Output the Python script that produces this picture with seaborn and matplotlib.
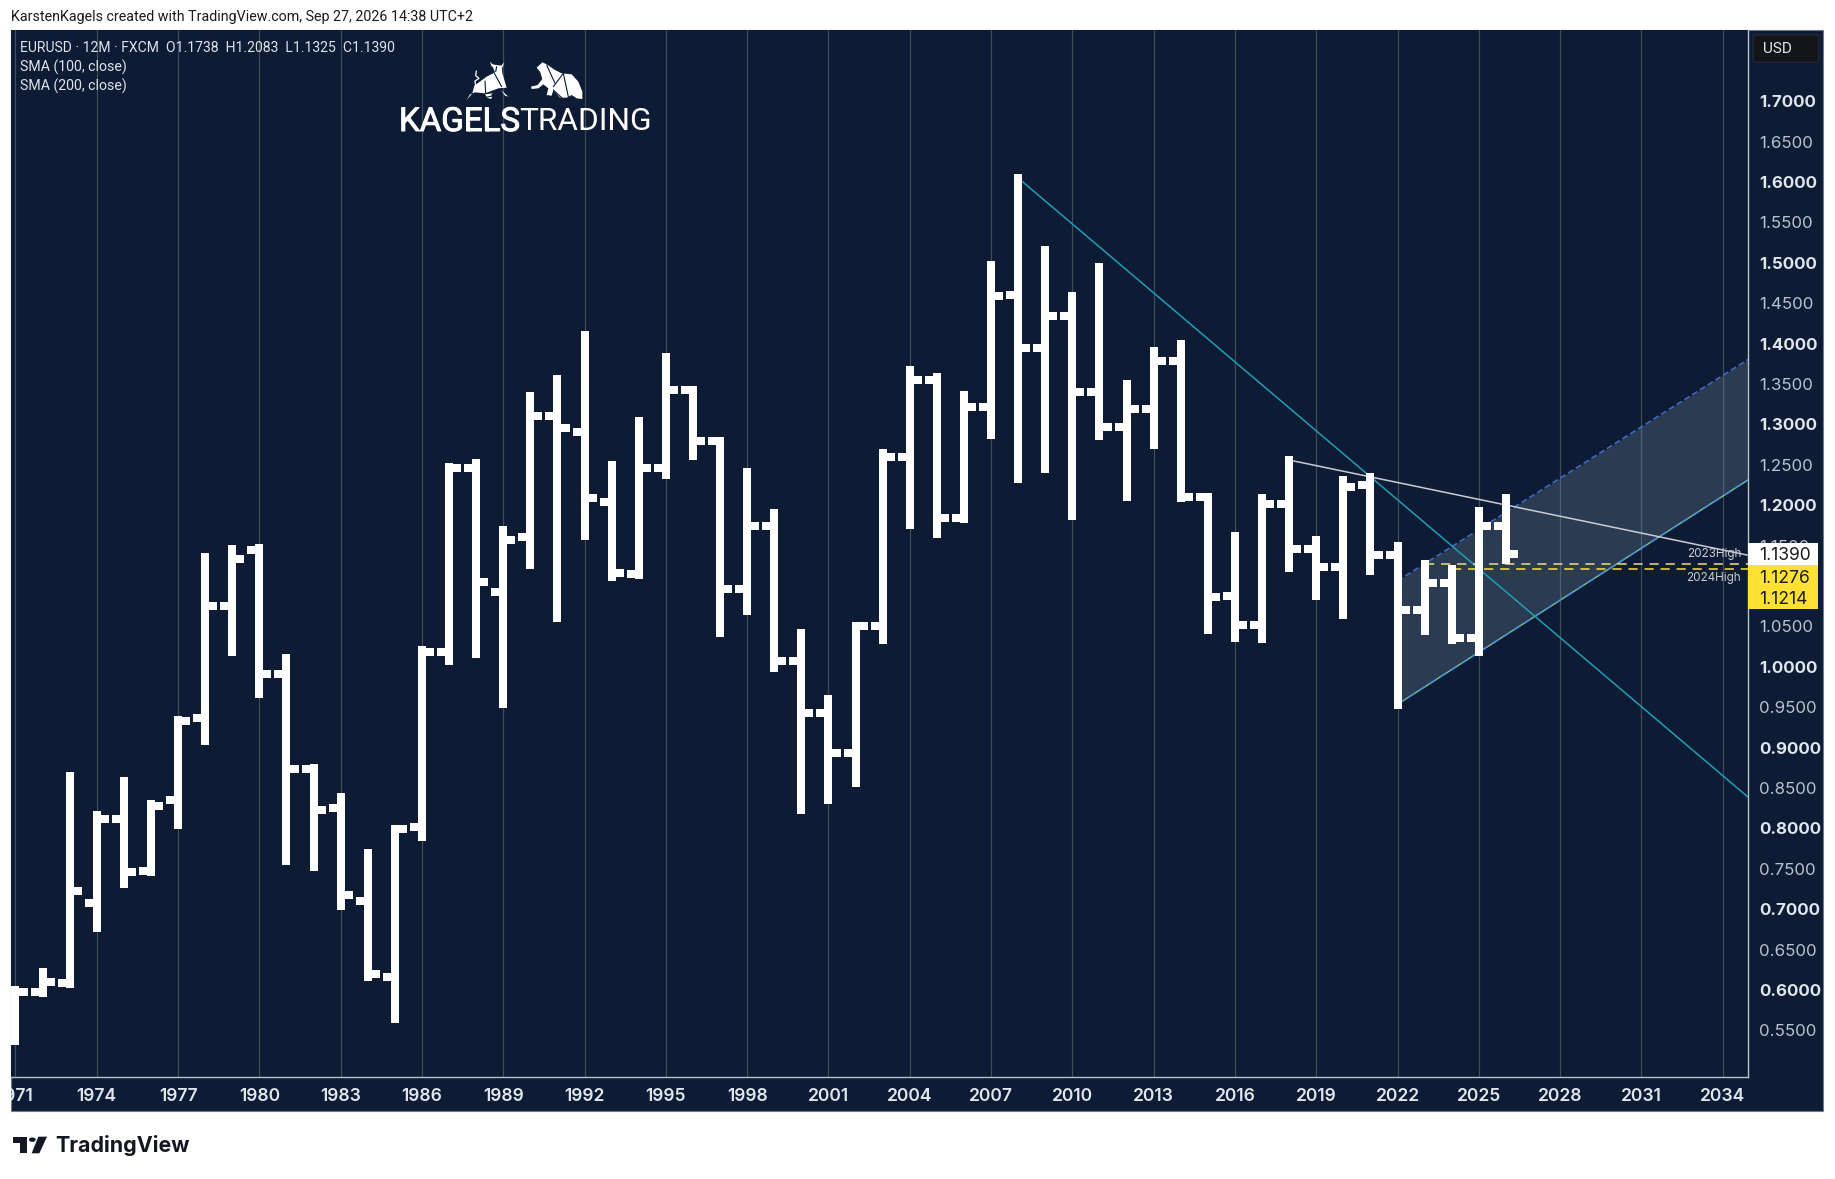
import matplotlib
matplotlib.use("Agg")
import pandas as pd
import seaborn as sns
import matplotlib.pyplot as plt
from matplotlib.patches import Rectangle, Polygon, Circle, FancyBboxPatch
import matplotlib.patheffects as pe

# yearly EURUSD bars
years = list(range(1971, 2027))
opens = [0.541, 0.598, 0.609, 0.708, 0.811, 0.747, 0.835, 0.936, 1.075, 1.144,
         0.991, 0.874, 0.825, 0.710, 0.616, 0.802, 1.0186, 1.2463, 1.092, 1.1605,
         1.3106, 1.290, 1.2034, 1.115, 1.2463, 1.342, 1.2793, 1.0961, 1.1741, 1.0074,
         0.9431, 0.8936, 1.0504, 1.26, 1.3554, 1.1845, 1.321, 1.4604, 1.394, 1.434,
         1.34, 1.2962, 1.3193, 1.3783, 1.2104, 1.087, 1.0512, 1.2009, 1.1452, 1.123,
         1.2244, 1.1386, 1.0701, 1.104, 1.0355, 1.1738]
highs = [0.6005, 0.6225, 0.8645, 0.8165, 0.8585, 0.8305, 0.9335, 1.1355, 1.1455, 1.1465,
         1.011, 0.8745, 0.8385, 0.7695, 0.7995, 1.0203, 1.2472, 1.2525, 1.1692, 1.3355,
         1.3561, 1.4109, 1.2496, 1.3045, 1.3833, 1.342, 1.2793, 1.241, 1.1902, 1.0417,
         0.9597, 1.0505, 1.265, 1.3667, 1.3581, 1.3366, 1.4966, 1.6044, 1.5153, 1.4588,
         1.4947, 1.3495, 1.3903, 1.3998, 1.2105, 1.1618, 1.2092, 1.2558, 1.1568, 1.2307,
         1.2352, 1.1494, 1.1276, 1.1214, 1.1923, 1.2083]
lows = [0.5365, 0.5965, 0.6075, 0.6765, 0.7315, 0.7455, 0.8035, 0.9075, 1.018, 0.9665,
        0.7595, 0.7525, 0.7035, 0.6165, 0.5635, 0.7895, 1.0075, 1.0155, 0.9542, 1.1262,
        1.0602, 1.1613, 1.1105, 1.1138, 1.2376, 1.2607, 1.0416, 1.0693, 0.9987, 0.8226,
        0.835, 0.8556, 1.033, 1.1758, 1.164, 1.1828, 1.2866, 1.2327, 1.245, 1.1869,
        1.2859, 1.2098, 1.2743, 1.2092, 1.0458, 1.0355, 1.0342, 1.1217, 1.0878, 1.0639,
        1.118, 0.953, 1.0441, 1.0334, 1.0177, 1.1325]
closes = [0.598, 0.610, 0.723, 0.812, 0.746, 0.828, 0.933, 1.075, 1.1337, 0.991,
          0.874, 0.823, 0.717, 0.620, 0.799, 1.0186, 1.2455, 1.105, 1.1568, 1.310,
          1.2954, 1.2092, 1.1155, 1.2463, 1.342, 1.2793, 1.0961, 1.1741, 1.0074, 0.9431,
          0.8936, 1.0504, 1.26, 1.3554, 1.1845, 1.321, 1.4589, 1.394, 1.434, 1.34,
          1.2962, 1.3193, 1.3783, 1.2104, 1.0866, 1.0512, 1.2009, 1.1452, 1.123, 1.2224,
          1.1386, 1.0701, 1.104, 1.0355, 1.1741, 1.1390]

# trendlines drawn on the chart (year, price)
teal_x, teal_y = [2008, 2034.93], [1.6048, 0.8387]
white_x, white_y = [2018, 2034.93], [1.2558, 1.138]
chan_x = [2022, 2034.93]
chan_low = [0.9536, 1.2311]
chan_high = [1.1063, 1.3802]
high_2023, high_2024 = 1.1276, 1.1214
price_ticks = [round(0.55 + 0.05 * i, 2) for i in range(24)]
year_ticks = list(range(1971, 2035, 3))

W, H = 1835, 1179
NAVY = "#0d1b34"
TICK = 0.443  # length of open/close ticks in years

sns.set_theme(style="dark", rc={"axes.facecolor": NAVY, "figure.facecolor": "white"})
plt.rcParams["font.family"] = ["Inter", "DejaVu Sans"]


def fx(x):
    return x / W


def fy(y):
    return 1 - y / H


def pts(points, x0=0, y0=0, k=1.0):
    return [(fx(x0 + x * k), fy(y0 + y * k)) for x, y in points]


fig = plt.figure(figsize=(W / 100, H / 100), dpi=100)
fig.add_artist(Rectangle((fx(11), fy(1111)), fx(1823 - 11), (1111 - 30) / H,
                         transform=fig.transFigure, fc=NAVY, ec="#6d7a8c", lw=0.8, zorder=-1))
ax = fig.add_axes([fx(11), fy(1076.7), fx(1748 - 11), (1076.7 - 30) / H])
ax.set_xlim(1970.834, 2034.93)
ax.set_ylim(0.4926, 1.788)

# long tables so seaborn can draw each stem and tick as its own unit
stems = pd.DataFrame({"year": years * 2, "unit": years * 2, "price": highs + lows})
open_x = [y - TICK for y in years] + years
open_t = pd.DataFrame({"x": open_x, "unit": years * 2, "price": opens * 2})
close_x = years + [y + TICK for y in years]
close_t = pd.DataFrame({"x": close_x, "unit": years * 2, "price": closes * 2})

ax.fill_between(chan_x, chan_low, chan_high, color="#8ea8ba", alpha=0.23, lw=0, zorder=1)
ax.plot(chan_x, chan_low, color="#7fbf8f", lw=1.0, zorder=2)
ax.plot(chan_x, chan_low, color="#3f8fe0", lw=1.0, ls=(0, (6, 3)), zorder=2)
ax.plot(chan_x, chan_high, color="#3f6fc8", lw=1.1, ls=(0, (4, 2)), zorder=2)
ax.plot(teal_x, teal_y, color="#1f9fb5", lw=1.1, zorder=2)
ax.plot(white_x, white_y, color="#c8ccd4", lw=1.1, zorder=2)
ax.plot([2023, 2034.93], [high_2023] * 2, color="#e6e37a", lw=1.1, ls=(0, (6, 4.5)), zorder=2)
ax.plot([2024, 2034.93], [high_2024] * 2, color="#ffe135", lw=1.1, ls=(0, (6, 4.5)), zorder=2)

sns.lineplot(data=stems, x="year", y="price", units="unit", estimator=None, sort=False,
             color="white", lw=5.76, solid_capstyle="projecting", legend=False, ax=ax, zorder=4)
sns.lineplot(data=open_t, x="x", y="price", units="unit", estimator=None, sort=False,
             color="white", lw=5.76, solid_capstyle="butt", legend=False, ax=ax, zorder=4)
sns.lineplot(data=close_t, x="x", y="price", units="unit", estimator=None, sort=False,
             color="white", lw=5.76, solid_capstyle="butt", legend=False, ax=ax, zorder=4)

ax.set_xlabel("")
ax.set_ylabel("")
ax.set_xticks(year_ticks)
ax.set_xticklabels([str(y) for y in year_ticks], fontsize=12.6, fontweight="semibold", color="#dfe6ee")
ax.yaxis.tick_right()
ax.set_yticks(price_ticks)
# the 1.1000 label sits behind the yellow price boxes on the original
ax.set_yticklabels(["" if p == 1.1 else f"{p:.4f}" for p in price_ticks], fontsize=12.2, color="#b9c2ce")
for lab, p in zip(ax.get_yticklabels(), price_ticks):
    if round(p * 100) % 10 == 0:
        lab.set_fontweight("bold")
        lab.set_color("#dfe6ee")
ax.tick_params(axis="x", length=0, pad=8)
ax.tick_params(axis="y", length=0, pad=8)
ax.xaxis.grid(True, color="#414c5b", lw=0.9, zorder=0)
ax.set_axisbelow(True)
ax.yaxis.grid(False)
for side in ("top", "left"):
    ax.spines[side].set_visible(False)
for side in ("right", "bottom"):
    ax.spines[side].set_visible(True)
    ax.spines[side].set_color("#b8c2cc")
    ax.spines[side].set_linewidth(1.0)

# margin on the left cuts the 1971 label
fig.add_artist(Rectangle((0, fy(1112)), fx(11), 40 / H, transform=fig.transFigure,
                         fc="white", ec="none", zorder=5))

# header text
fig.text(fx(11), fy(17.5), "KarstenKagels created with TradingView.com, Sep 27, 2026 14:38 UTC+2",
         fontsize=10.3, family="Roboto", color="#1a1a1a", va="center", zorder=6)
fig.text(fx(20), fy(48), "EURUSD · 12M · FXCM  O1.1738  H1.2083  L1.1325  C1.1390",
         fontsize=10.05, family="Roboto", color="#dfe3ea", va="center", zorder=6)
fig.text(fx(20), fy(67), "SMA (100, close)", fontsize=10.2, family="Roboto", color="#dfe3ea", va="center", zorder=6)
fig.text(fx(20), fy(86), "SMA (200, close)", fontsize=10.2, family="Roboto", color="#dfe3ea", va="center", zorder=6)

# kagels logo
fig.text(fx(399), fy(122), "KAGELS", fontsize=23.8, family="Roboto", color="white", va="center",
         path_effects=[pe.withStroke(linewidth=0.7, foreground="white")], zorder=6)
fig.text(fx(519), fy(122), "TRADING", fontsize=22.8, family="Roboto", color="white", va="center", zorder=6)
bull = [[(110, 28), (140, 32), (142, 55), (155, 98), (130, 100), (90, 115), (60, 112), (45, 118), (35, 135),
         (52, 115), (58, 92), (95, 65), (120, 52)],
        [(105, 20), (118, 33), (110, 35)], [(148, 22), (136, 35), (142, 38)],
        [(90, 118), (112, 115), (108, 122), (95, 125)], [(95, 128), (112, 125), (108, 132)],
        [(138, 105), (160, 125), (150, 122)]]
bear = [[(245, 38), (262, 22), (275, 28), (300, 45), (320, 55), (350, 58), (370, 80), (382, 110), (382, 132),
         (365, 130), (350, 120), (335, 128), (315, 128), (295, 105), (290, 122), (275, 120), (280, 100), (265, 88),
         (250, 100), (230, 102), (228, 95), (248, 90), (262, 72), (255, 50)]]
for shape in bull + bear:
    fig.add_artist(Polygon(pts(shape, 455, 55, 1 / 3), transform=fig.transFigure, fc="white", ec="none", zorder=6))
folds = [[(90, 78), (92, 115)], [(118, 55), (140, 95)], [(125, 35), (122, 50)], [(275, 30), (300, 85)],
         [(325, 55), (295, 95)], [(325, 55), (340, 125)], [(295, 105), (320, 128)]]
for seg in folds:
    fig.add_artist(plt.Line2D(*zip(*pts(seg, 455, 55, 1 / 3)), transform=fig.transFigure,
                              color=NAVY, lw=0.8, zorder=7))
fig.add_artist(plt.Line2D(*zip(*pts([(62, 92), (60, 78), (72, 70), (62, 62), (64, 48)], 455, 55, 1 / 3)),
                          transform=fig.transFigure, color="white", lw=0.9, zorder=6))

# USD box and price labels
fig.add_artist(FancyBboxPatch((fx(1755), fy(61)), fx(62), 25 / H, boxstyle="round,pad=0.001",
                              transform=fig.transFigure, fc="#141518", ec="#2a3040", lw=0.6, zorder=5))
fig.text(fx(1763), fy(49), "USD", fontsize=11, family="Roboto", color="#e6e8ec", va="center", zorder=6)
fig.add_artist(Rectangle((fx(1748), fy(565)), fx(70), 22 / H, transform=fig.transFigure, fc="white", ec="none", zorder=5))
fig.add_artist(Rectangle((fx(1748), fy(609)), fx(70), 44 / H, transform=fig.transFigure, fc="#ffe135", ec="none", zorder=5))
for txt, y in [("1.1390", 555.5), ("1.1276", 578), ("1.1214", 600)]:
    fig.text(fx(1759), fy(y), txt, fontsize=12.6, color="#1c1c1c", va="center", zorder=6)
fig.text(fx(1741), fy(554), "2023High", fontsize=8.4, color="#c8ccd4", ha="right", va="center", zorder=6)
fig.text(fx(1741), fy(578), "2024High", fontsize=8.4, color="#c8ccd4", ha="right", va="center", zorder=6)

# tradingview footer
tv = [[(25, 35), (65, 35), (65, 85), (45, 85), (45, 55), (25, 55)], [(100, 35), (126, 35), (103, 85), (80, 85)]]
for shape in tv:
    fig.add_artist(Polygon(pts(shape, 5, 1125, 1 / 3), transform=fig.transFigure, fc="#131722", ec="none", zorder=6))
fig.add_artist(Circle((fx(5 + 82 / 3), fy(1125 + 44 / 3)), 3.4 / W, transform=fig.transFigure, fc="#131722", ec="none", zorder=6))
fig.text(fx(55), fy(1146), "TradingView", fontsize=15.4, fontweight="bold", family="Inter", color="#131722", va="center", zorder=6)

fig.savefig("out.png", dpi=100)
